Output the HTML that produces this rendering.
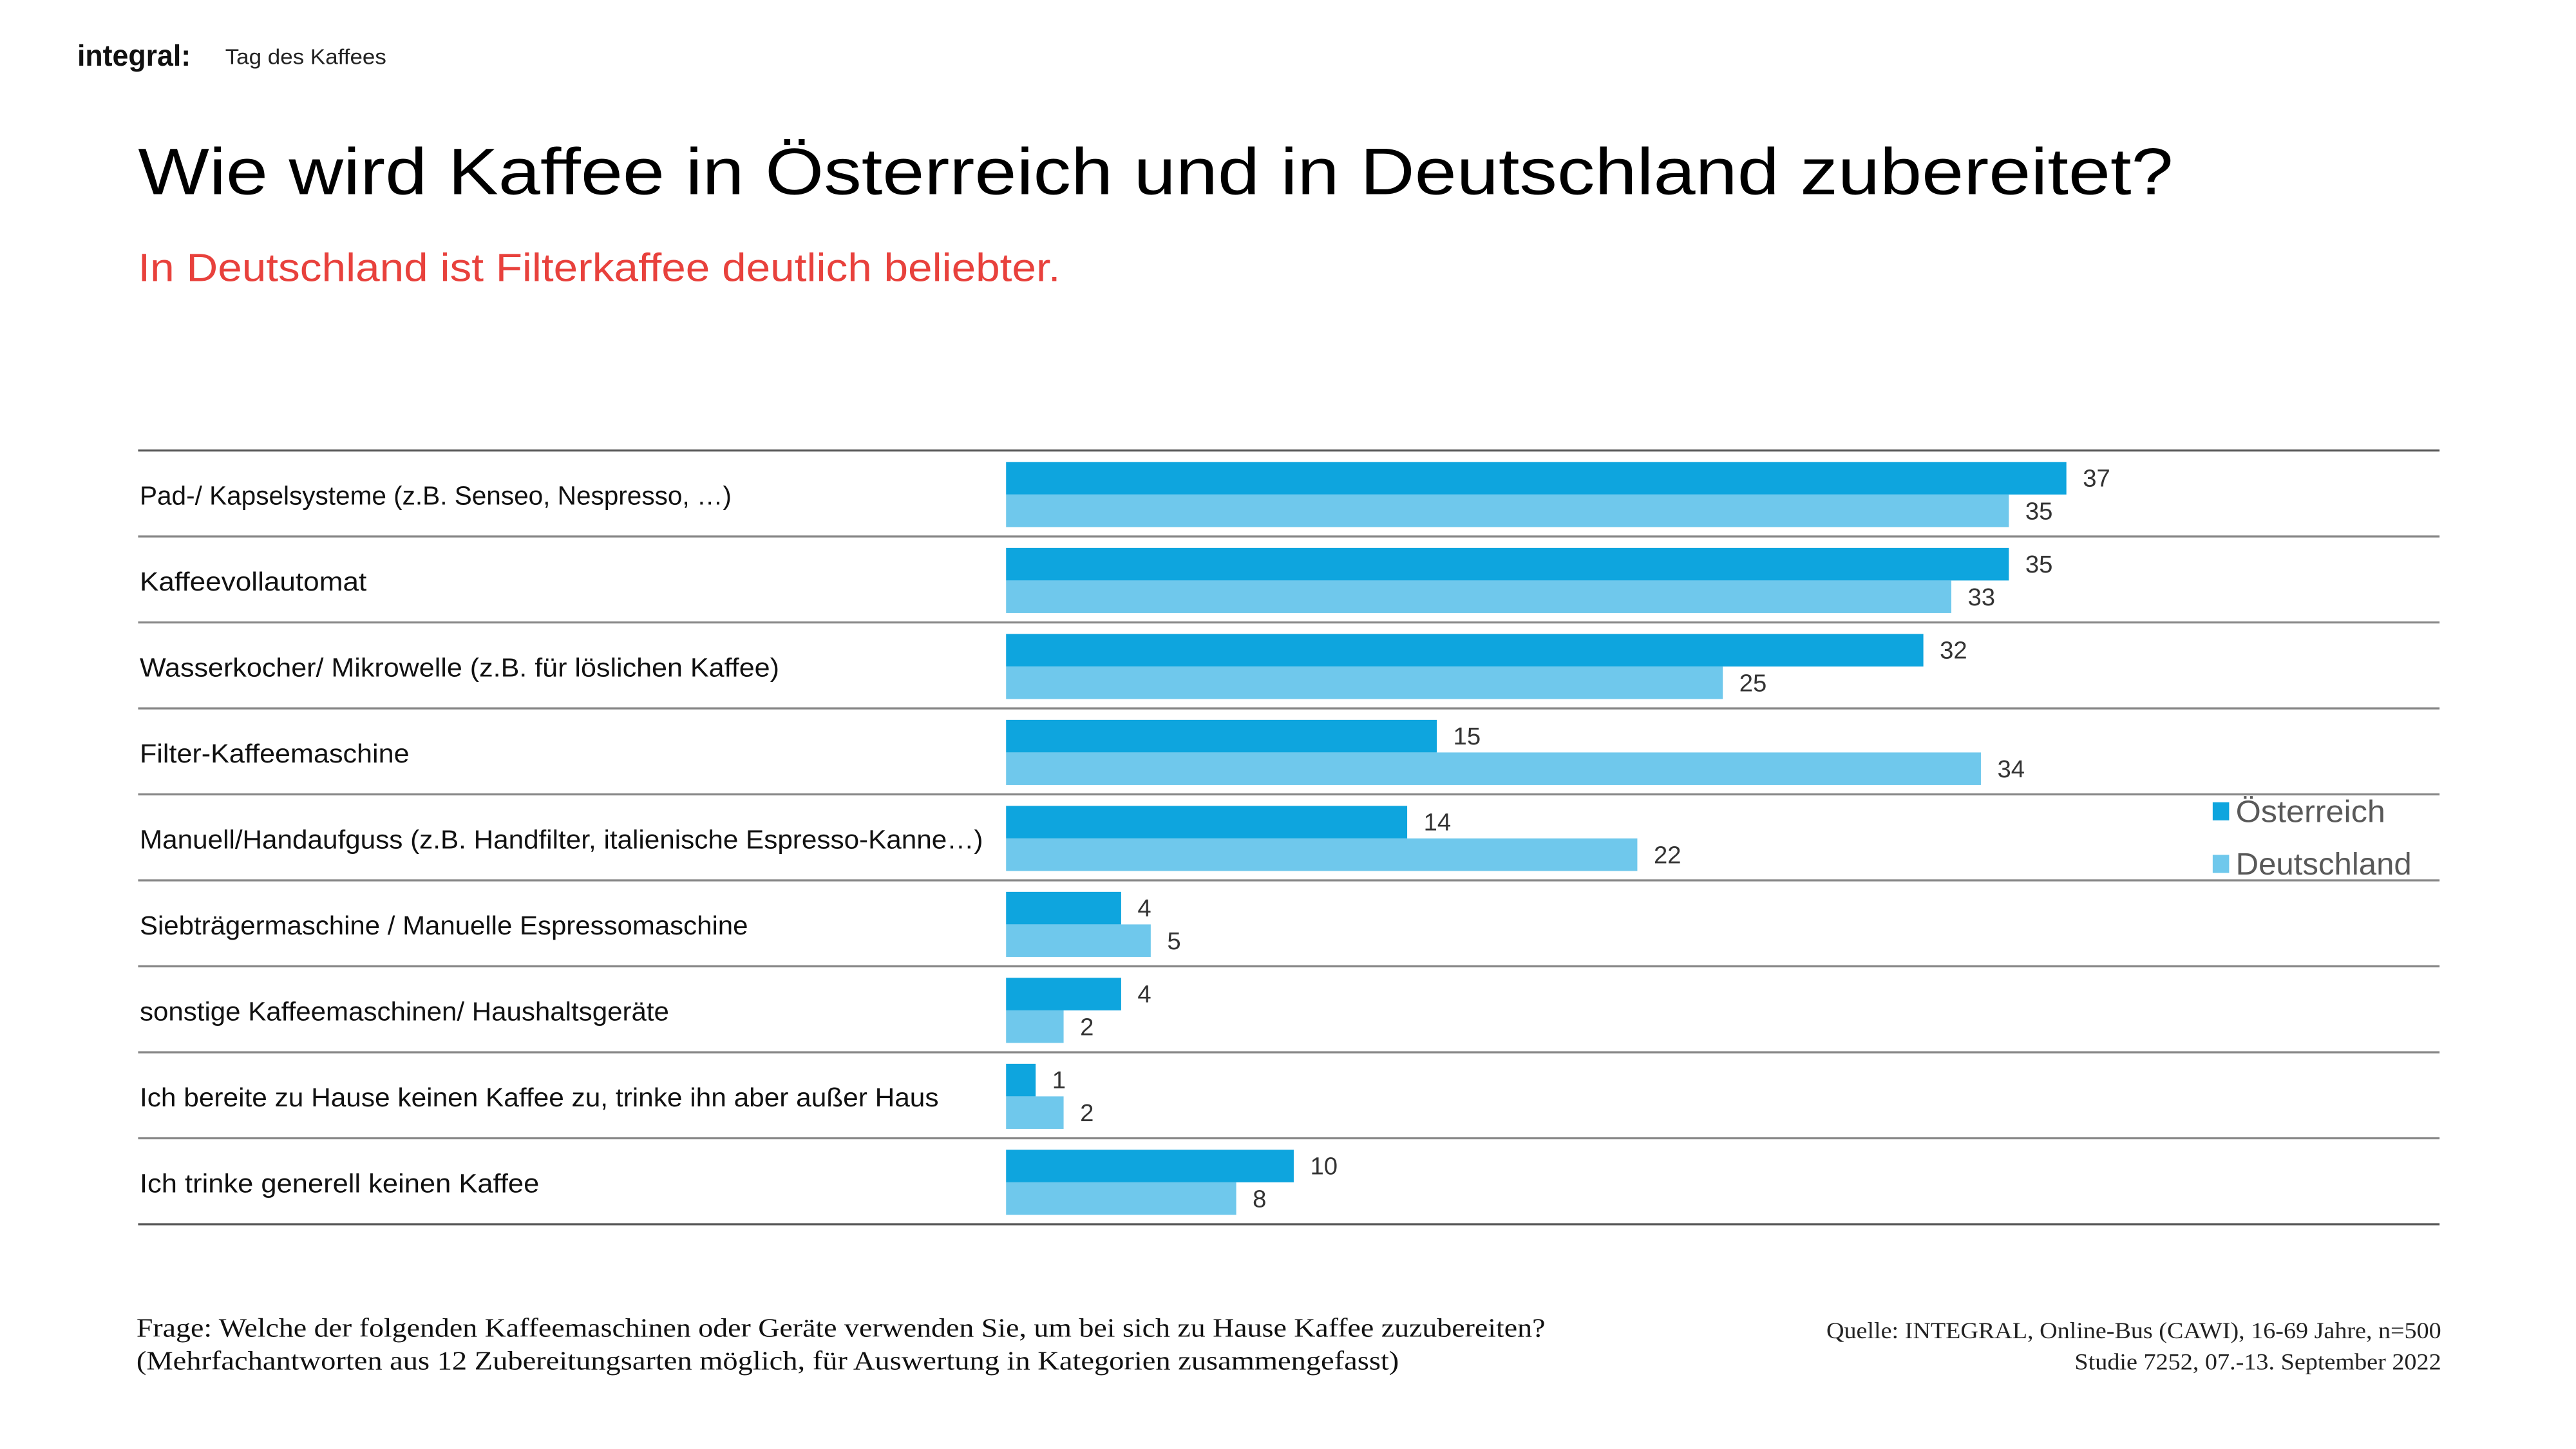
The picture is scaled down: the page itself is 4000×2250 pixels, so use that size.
<!DOCTYPE html>
<html><head><meta charset="utf-8"><style>
html,body{margin:0;padding:0;background:#fff;}
svg{display:block;}
text{font-family:"Liberation Sans",sans-serif;}
.lab{font-size:16px;fill:#111;}
.val{font-size:15px;fill:#333;}
.ser{font-family:"Liberation Serif",serif;}
</style></head><body>
<svg width="4000" height="2250" viewBox="0 0 1567 881.4" xmlns="http://www.w3.org/2000/svg">
<rect width="1600" height="900" fill="#fff"/>
<text x="47" y="40" font-size="18" font-weight="bold" fill="#111" textLength="69" lengthAdjust="spacingAndGlyphs">integral:</text>
<text x="137" y="39" font-size="13" fill="#222" textLength="98" lengthAdjust="spacingAndGlyphs">Tag des Kaffees</text>
<text x="84" y="118" font-size="40" fill="#000" textLength="1238" lengthAdjust="spacingAndGlyphs">Wie wird Kaffee in Österreich und in Deutschland zubereitet?</text>
<text x="84" y="171" font-size="24" fill="#e8413c" textLength="561" lengthAdjust="spacingAndGlyphs">In Deutschland ist Filterkaffee deutlich beliebter.</text>

<g stroke-width="1.3">
<line x1="84" x2="1484" y1="274" y2="274" stroke="#555"/>
<line x1="84" x2="1484" y1="326.3" y2="326.3" stroke="#888"/>
<line x1="84" x2="1484" y1="378.6" y2="378.6" stroke="#888"/>
<line x1="84" x2="1484" y1="430.9" y2="430.9" stroke="#888"/>
<line x1="84" x2="1484" y1="483.2" y2="483.2" stroke="#888"/>
<line x1="84" x2="1484" y1="535.5" y2="535.5" stroke="#888"/>
<line x1="84" x2="1484" y1="587.8" y2="587.8" stroke="#888"/>
<line x1="84" x2="1484" y1="640.1" y2="640.1" stroke="#888"/>
<line x1="84" x2="1484" y1="692.4" y2="692.4" stroke="#888"/>
<line x1="84" x2="1484" y1="744.7" y2="744.7" stroke="#555"/>
</g>

<g class="lab">
<text class="lab" x="85" y="307" textLength="360" lengthAdjust="spacingAndGlyphs">Pad-/ Kapselsysteme (z.B. Senseo, Nespresso, …)</text>
<text class="lab" x="85" y="359.3" textLength="138" lengthAdjust="spacingAndGlyphs">Kaffeevollautomat</text>
<text class="lab" x="85" y="411.6" textLength="389" lengthAdjust="spacingAndGlyphs">Wasserkocher/ Mikrowelle (z.B. für löslichen Kaffee)</text>
<text class="lab" x="85" y="463.9" textLength="164" lengthAdjust="spacingAndGlyphs">Filter-Kaffeemaschine</text>
<text class="lab" x="85" y="516.2" textLength="513" lengthAdjust="spacingAndGlyphs">Manuell/Handaufguss  (z.B. Handfilter, italienische Espresso-Kanne…)</text>
<text class="lab" x="85" y="568.5" textLength="370" lengthAdjust="spacingAndGlyphs">Siebträgermaschine /  Manuelle Espressomaschine</text>
<text class="lab" x="85" y="620.8" textLength="322" lengthAdjust="spacingAndGlyphs">sonstige Kaffeemaschinen/ Haushaltsgeräte</text>
<text class="lab" x="85" y="673.1" textLength="486" lengthAdjust="spacingAndGlyphs">Ich bereite zu Hause keinen Kaffee zu, trinke ihn aber außer Haus</text>
<text class="lab" x="85" y="725.4" textLength="243" lengthAdjust="spacingAndGlyphs">Ich trinke generell keinen Kaffee</text>
</g>

<g>
<rect x="612" y="281" width="645" height="19.8" fill="#0ea5de"/><rect x="612" y="300.8" width="610" height="19.8" fill="#6fc8ec"/>
<text class="val" x="1267" y="296">37</text><text class="val" x="1232" y="316">35</text>
<rect x="612" y="333.3" width="610" height="19.8" fill="#0ea5de"/><rect x="612" y="353.1" width="575" height="19.8" fill="#6fc8ec"/>
<text class="val" x="1232" y="348.3">35</text><text class="val" x="1197" y="368.3">33</text>
<rect x="612" y="385.6" width="558" height="19.8" fill="#0ea5de"/><rect x="612" y="405.4" width="436" height="19.8" fill="#6fc8ec"/>
<text class="val" x="1180" y="400.6">32</text><text class="val" x="1058" y="420.6">25</text>
<rect x="612" y="437.9" width="262" height="19.8" fill="#0ea5de"/><rect x="612" y="457.7" width="593" height="19.8" fill="#6fc8ec"/>
<text class="val" x="884" y="452.9">15</text><text class="val" x="1215" y="472.9">34</text>
<rect x="612" y="490.2" width="244" height="19.8" fill="#0ea5de"/><rect x="612" y="510" width="384" height="19.8" fill="#6fc8ec"/>
<text class="val" x="866" y="505.2">14</text><text class="val" x="1006" y="525.2">22</text>
<rect x="612" y="542.5" width="70" height="19.8" fill="#0ea5de"/><rect x="612" y="562.3" width="88" height="19.8" fill="#6fc8ec"/>
<text class="val" x="692" y="557.5">4</text><text class="val" x="710" y="577.5">5</text>
<rect x="612" y="594.8" width="70" height="19.8" fill="#0ea5de"/><rect x="612" y="614.6" width="35" height="19.8" fill="#6fc8ec"/>
<text class="val" x="692" y="609.8">4</text><text class="val" x="657" y="629.8">2</text>
<rect x="612" y="647.1" width="18" height="19.8" fill="#0ea5de"/><rect x="612" y="666.9" width="35" height="19.8" fill="#6fc8ec"/>
<text class="val" x="640" y="662.1">1</text><text class="val" x="657" y="682.1">2</text>
<rect x="612" y="699.4" width="175" height="19.8" fill="#0ea5de"/><rect x="612" y="719.2" width="140" height="19.8" fill="#6fc8ec"/>
<text class="val" x="797" y="714.4">10</text><text class="val" x="762" y="734.4">8</text>
</g>

<rect x="1346" y="488" width="10" height="11" fill="#0ea5de"/>
<text x="1360" y="500" font-size="19" fill="#595959" textLength="91" lengthAdjust="spacingAndGlyphs">Österreich</text>
<rect x="1346" y="520" width="10" height="11" fill="#6fc8ec"/>
<text x="1360" y="532" font-size="19" fill="#595959" textLength="107" lengthAdjust="spacingAndGlyphs">Deutschland</text>

<text class="ser" x="83" y="813" font-size="16" fill="#111" textLength="857" lengthAdjust="spacingAndGlyphs">Frage: Welche der folgenden Kaffeemaschinen oder Geräte verwenden Sie, um bei sich zu Hause Kaffee zuzubereiten?</text>
<text class="ser" x="83" y="833" font-size="16" fill="#111" textLength="768" lengthAdjust="spacingAndGlyphs">(Mehrfachantworten aus 12 Zubereitungsarten möglich, für Auswertung in Kategorien zusammengefasst)</text>
<text class="ser" x="1111" y="814" font-size="14" fill="#222" textLength="374" lengthAdjust="spacingAndGlyphs">Quelle: INTEGRAL, Online-Bus (CAWI), 16-69 Jahre, n=500</text>
<text class="ser" x="1262" y="833" font-size="14" fill="#222" textLength="223" lengthAdjust="spacingAndGlyphs">Studie 7252, 07.-13. September 2022</text>
</svg>
</body></html>
